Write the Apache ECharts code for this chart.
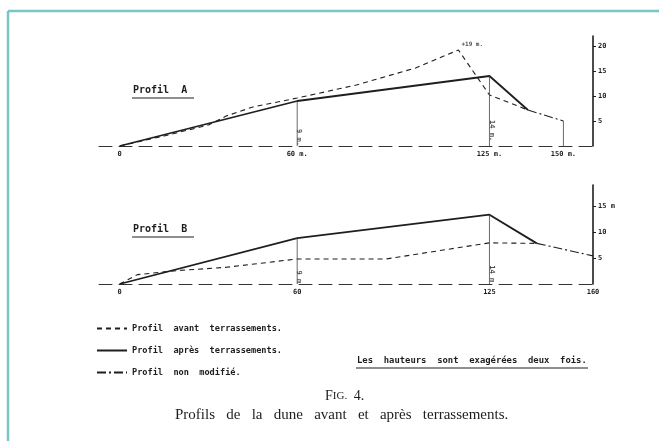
<!DOCTYPE html>
<html>
<head>
<meta charset="utf-8">
<script src="https://cdn.jsdelivr.net/npm/echarts@6/dist/echarts.min.js"></script>
<style>
  html, body { margin: 0; padding: 0; background: #fff; }
  #main { width: 659px; height: 441px; }
</style>
</head>
<body>
<div id="main"></div>
<script>
// Profil A : distance (m), hauteur (m)
var avantA = [[0, 0], [15, 2], [30, 4.2], [36, 6], [45, 7.8], [60, 9.6], [80, 12.2], [100, 15.6], [114.5, 19.2], [125, 10.2], [138, 7.2]]
var apresA = [[0, 0], [60, 9], [125, 14], [138, 7.2]]
var nonModA = [[138, 7.2], [150, 5]]
var repereA = [60, 125, 150]            // traits verticaux
var repereHautA = [9, 14, 5]
var cotesA = [[60, 3.4, '9 m.'], [125, 5.2, '14 m.']]
var xTicksA = [0, 60, 125, 150]
var xLabelsA = ['0', '60 m.', '125 m.', '150 m.']
var yTicksA = [5, 10, 15, 20]

// Profil B
var avantB = [[0, 0], [6, 1.8], [20, 2.6], [36, 3.2], [60, 4.8], [90, 4.8], [125, 7.9], [141, 7.8]]
var apresB = [[0, 0], [60, 8.8], [125, 13.3], [141, 7.8]]
var nonModB = [[141, 7.8], [160, 5.4]]
var repereB = [60, 125]
var repereHautB = [8.8, 13.3]
var cotesB = [[60, 2.6, '9 m'], [125, 3.6, '14 m']]
var xTicksB = [0, 60, 125, 160]
var xLabelsB = ['0', '60', '125', '160']
var yTicksB = [5, 10, 15]
var yLabelsB = ['5', '10', '15 m']

var ink = '#1e1e1e'
var mono = 'DejaVu Sans Mono'
var serif = 'Liberation Serif'

var myChart = echarts.init(document.getElementById('main'))

function xAxisOf (idx, ticks, labels) {
  return {
    type: 'value',
    gridIndex: idx,
    min: -7,
    max: 160,
    axisLine: { show: true, lineStyle: { color: '#333', width: 1, type: [13, 7] } },
    axisTick: { show: false },
    splitLine: { show: false },
    axisLabel: {
      customValues: ticks,
      margin: 5,
      color: ink,
      fontFamily: mono,
      fontWeight: 'bold',
      fontSize: 7,
      formatter: function (v) { return labels[ticks.indexOf(v)] }
    }
  }
}

function yAxisOf (idx, max, ticks, labels) {
  return {
    type: 'value',
    gridIndex: idx,
    position: 'right',
    min: 0,
    max: max,
    axisLine: { show: true, onZero: false, lineStyle: { color: ink, width: 1.6 } },
    axisTick: { show: true, customValues: ticks, length: 3, lineStyle: { color: ink } },
    splitLine: { show: false },
    axisLabel: {
      customValues: ticks,
      margin: 5,
      color: ink,
      fontFamily: mono,
      fontWeight: 'bold',
      fontSize: 7,
      formatter: function (v) { return labels[ticks.indexOf(v)] }
    }
  }
}

function ligne (name, data, idx, type, width) {
  return {
    name: name,
    type: 'line',
    xAxisIndex: idx,
    yAxisIndex: idx,
    data: data,
    symbol: 'none',
    silent: true,
    color: ink,
    itemStyle: { color: ink },
    lineStyle: { color: ink, width: width, type: type }
  }
}

function reperes (xs, hs, idx) {
  return xs.map(function (x, i) {
    return {
      type: 'line',
      xAxisIndex: idx,
      yAxisIndex: idx,
      data: [[x, 0], [x, hs[i]]],
      symbol: 'none',
      silent: true,
      lineStyle: { color: '#444', width: 0.8 }
    }
  })
}

function cotes (list, idx) {
  return {
    type: 'scatter',
    xAxisIndex: idx,
    yAxisIndex: idx,
    symbolSize: 0,
    silent: true,
    data: list.map(function (c) { return { value: [c[0], c[1]], name: c[2] } }),
    label: {
      show: true,
      formatter: '{b}',
      position: 'right',
      distance: 2,
      rotate: -90,
      color: ink,
      fontFamily: mono,
      fontWeight: 'bold',
      fontSize: 7
    }
  }
}

var AVANT = 'Profil  avant  terrassements.'
var APRES = 'Profil  après  terrassements.'
var NONMOD = 'Profil  non  modifié.'
var dash = [5, 4]
var dashDot = [9, 3, 2, 3]

var peakA = avantA[8]

var option = {
  backgroundColor: '#fff',
  animation: false,
  grid: [
    { left: 99, right: 66, top: 36, height: 110 },
    { left: 99, right: 66, top: 185, height: 99 }
  ],
  xAxis: [xAxisOf(0, xTicksA, xLabelsA), xAxisOf(1, xTicksB, xLabelsB)],
  yAxis: [
    yAxisOf(0, 22, yTicksA, yTicksA.map(String)),
    yAxisOf(1, 19, yTicksB, yLabelsB)
  ],
  legend: {
    orient: 'vertical',
    left: 91,
    top: 319,
    itemWidth: 30,
    itemHeight: 8,
    itemGap: 13,
    selectedMode: false,
    itemStyle: { opacity: 0 },
    data: [AVANT, APRES, NONMOD],
    textStyle: { color: ink, fontFamily: mono, fontWeight: 'bold', fontSize: 8.6 }
  },
  series: [
    ligne(AVANT, avantA, 0, dash, 1.1),
    ligne(APRES, apresA, 0, 'solid', 1.8),
    ligne(NONMOD, nonModA, 0, dashDot, 1.1),
    ligne(AVANT, avantB, 1, dash, 1.1),
    ligne(APRES, apresB, 1, 'solid', 1.8),
    ligne(NONMOD, nonModB, 1, dashDot, 1.1),
    cotes(cotesA, 0),
    cotes(cotesB, 1),
    {
      type: 'scatter',
      xAxisIndex: 0,
      yAxisIndex: 0,
      symbolSize: 0,
      silent: true,
      data: [peakA],
      label: {
        show: true,
        formatter: '+19 m.',
        position: 'right',
        offset: [0, -6],
        distance: 3,
        color: ink,
        fontFamily: mono,
        fontWeight: 'bold',
        fontSize: 6
      }
    }
  ].concat(reperes(repereA, repereHautA, 0), reperes(repereB, repereHautB, 1)),
  graphic: [
    // liseré du cadre
    { type: 'line', shape: { x1: 8, y1: 11, x2: 659, y2: 11 }, style: { stroke: '#79c6c8', lineWidth: 2.5 } },
    { type: 'line', shape: { x1: 8, y1: 11, x2: 8, y2: 441 }, style: { stroke: '#79c6c8', lineWidth: 2.5 } },
    // titres des profils
    { type: 'text', left: 133, top: 85, style: { text: 'Profil  A', fill: ink, font: 'bold 10px "DejaVu Sans Mono"' } },
    { type: 'line', shape: { x1: 132, y1: 98, x2: 194, y2: 98 }, style: { stroke: ink, lineWidth: 1.2 } },
    { type: 'text', left: 133, top: 224, style: { text: 'Profil  B', fill: ink, font: 'bold 10px "DejaVu Sans Mono"' } },
    { type: 'line', shape: { x1: 132, y1: 237, x2: 194, y2: 237 }, style: { stroke: ink, lineWidth: 1.2 } },
    // note
    { type: 'text', left: 357, top: 356, style: { text: 'Les  hauteurs  sont  exagérées  deux  fois.', fill: ink, font: 'bold 8.9px "DejaVu Sans Mono"' } },
    { type: 'line', shape: { x1: 356, y1: 368, x2: 588, y2: 368 }, style: { stroke: ink, lineWidth: 1 } },
    // légende de la figure
    {
      type: 'text',
      left: 325,
      top: 389,
      style: {
        text: '{a|F}{b|IG.}  {a|4.}',
        rich: {
          a: { fontFamily: serif, fontSize: 14, fill: ink },
          b: { fontFamily: serif, fontSize: 11, fill: ink }
        }
      }
    },
    { type: 'text', left: 175, top: 408, style: { text: 'Profils   de   la   dune   avant   et   après   terrassements.', fill: ink, font: '15px "Liberation Serif"' } }
  ]
}

myChart.setOption(option)
</script>
</body>
</html>
